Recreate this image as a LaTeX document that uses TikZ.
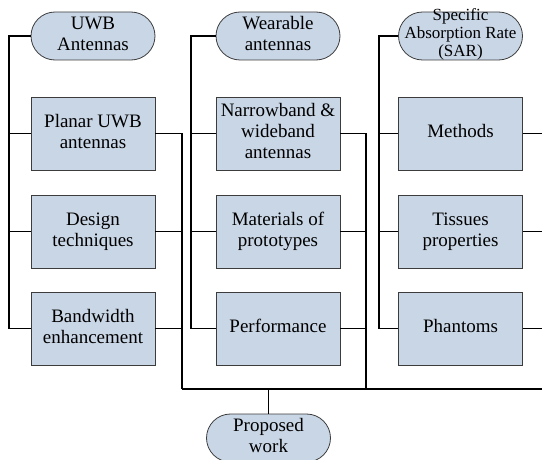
\documentclass[tikz,border=0pt]{standalone}
\usepackage{fontspec}
\setmainfont{Liberation Serif}
\usetikzlibrary{shapes.misc}

\definecolor{boxblue}{RGB}{201,214,230}
\definecolor{edgegray}{RGB}{60,60,60}

\tikzset{
	topicbox/.style={draw=edgegray, line width=0.8pt, fill=boxblue, minimum width=124pt, minimum height=73pt, inner sep=0pt, font=\fontsize{19}{21}\selectfont},
	headpill/.style={rounded rectangle, draw=edgegray, line width=0.8pt, fill=boxblue, minimum width=124pt, minimum height=48pt, inner sep=0pt, font=\fontsize{19}{21}\selectfont},
	link/.style={line width=1.8pt, black}
}

\begin{document}
\begin{tikzpicture}[x=1pt,y=-1pt]
		\useasboundingbox (0,0) rectangle (542,460);
		\clip (0,0) rectangle (542,460);
		
		% headings
		\node (uwb) at (93,36) [headpill] {\begin{tabular}{@{}c@{}}UWB\\Antennas\end{tabular}};
		\node (wear) at (278,36) [headpill] {\begin{tabular}{@{}c@{}}Wearable\\antennas\end{tabular}};
		\node (sar) at (460.5,36) [headpill] {};
		\node (sartext) at (460.5,35.4) [font=\fontsize{17}{18}\selectfont] {\begin{tabular}{@{}c@{}}Specific\\Absorption Rate\\(SAR)\end{tabular}};
		
		% column 1
		\node (planar) at (93,133.5) [topicbox] {\begin{tabular}{@{}c@{}}Planar UWB\\antennas\end{tabular}};
		\node (design) at (93,231.5) [topicbox] {\begin{tabular}{@{}c@{}}Design\\techniques\end{tabular}};
		\node (band) at (93,328.5) [topicbox] {\begin{tabular}{@{}c@{}}Bandwidth\\enhancement\end{tabular}};
		
		% column 2
		\node (narrow) at (278,133.5) [topicbox] {\begin{tabular}{@{}c@{}}Narrowband \&\\wideband\\antennas\end{tabular}};
		\node (mater) at (278,231.5) [topicbox] {\begin{tabular}{@{}c@{}}Materials of\\prototypes\end{tabular}};
		\node (perf) at (278,328.5) [topicbox] {\begin{tabular}{@{}c@{}}Performance\end{tabular}};
		
		% column 3
		\node (methods) at (460.5,133.5) [topicbox] {\begin{tabular}{@{}c@{}}Methods\end{tabular}};
		\node (tissue) at (460.5,231.5) [topicbox] {\begin{tabular}{@{}c@{}}Tissues\\properties\end{tabular}};
		\node (phant) at (460.5,328.5) [topicbox] {\begin{tabular}{@{}c@{}}Phantoms\end{tabular}};
		
		\node (proposed) at (268.5,438) [headpill] {\begin{tabular}{@{}c@{}}Proposed\\work\end{tabular}};
		
		% rails
		\coordinate (left1) at (9,0);
		\coordinate (left2) at (191,0);
		\coordinate (left3) at (379,0);
		\coordinate (right1) at (182,389);
		\coordinate (right2) at (366,389);
		\coordinate (busend) at (545,389);
		
		\draw[link] (uwb.west) -| (left1 |- band.west) -- (band.west);
		\draw[link] (planar.west) -- (left1 |- planar.west);
		\draw[link] (design.west) -- (left1 |- design.west);
		\draw[link] (planar.east) -| (right1);
		\draw[link] (design.east) -- (right1 |- design.east);
		\draw[link] (band.east) -- (right1 |- band.east);
		
		\draw[link] (wear.west) -| (left2 |- perf.west) -- (perf.west);
		\draw[link] (narrow.west) -- (left2 |- narrow.west);
		\draw[link] (mater.west) -- (left2 |- mater.west);
		\draw[link] (narrow.east) -| (right2);
		\draw[link] (mater.east) -- (right2 |- mater.east);
		\draw[link] (perf.east) -- (right2 |- perf.east);
		
		\draw[link] (sar.west) -| (left3 |- phant.west) -- (phant.west);
		\draw[link] (methods.west) -- (left3 |- methods.west);
		\draw[link] (tissue.west) -- (left3 |- tissue.west);
		\draw[link] (methods.east) -- (busend |- methods.east);
		\draw[link] (tissue.east) -- (busend |- tissue.east);
		\draw[link] (phant.east) -- (busend |- phant.east);
		
		\draw[link] (right1) -- (busend);
		\draw[link] (proposed.north) -- (proposed.north |- right1);
		
		\end{tikzpicture}
\end{document}
